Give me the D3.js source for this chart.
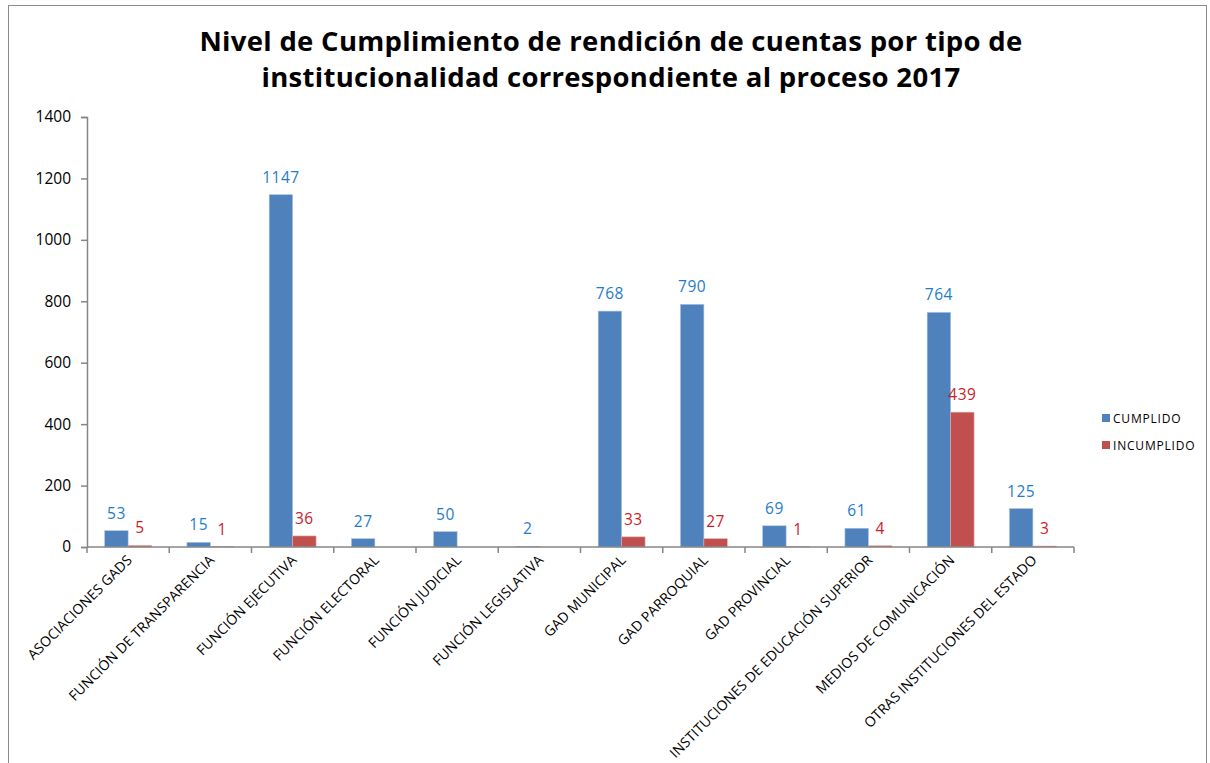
<!DOCTYPE html>
<html>
<head>
<meta charset="utf-8">
<script src="https://cdn.jsdelivr.net/npm/d3@7"></script>
<style>
  body { margin: 0; background: #fff; }
  text { font-family: "Open Sans", "DejaVu Sans", sans-serif; }
</style>
</head>
<body>
<div id="chart"></div>
<script>
// categories and values
const categories = [
  "ASOCIACIONES GADS", "FUNCIÓN DE TRANSPARENCIA", "FUNCIÓN EJECUTIVA",
  "FUNCIÓN ELECTORAL", "FUNCIÓN JUDICIAL", "FUNCIÓN LEGISLATIVA",
  "GAD MUNICIPAL", "GAD PARROQUIAL", "GAD PROVINCIAL",
  "INSTITUCIONES DE EDUCACIÓN SUPERIOR", "MEDIOS DE COMUNICACIÓN",
  "OTRAS INSTITUCIONES DEL ESTADO"
];
const cumplido = [53, 15, 1147, 27, 50, 2, 768, 790, 69, 61, 764, 125];
const incumplido = [5, 1, 36, null, null, null, 33, 27, 1, 4, 439, 3];
const seriesNames = ["CUMPLIDO", "INCUMPLIDO"];
const yTicks = [0, 200, 400, 600, 800, 1000, 1200, 1400];

const barColors = ["#4f81bd", "#c0504d"];
const labelColors = ["#1f7ccb", "#cc2027"];

const W = 1210, H = 763;
const margin = { top: 117, right: 136, bottom: 216, left: 87 };
const width = W - margin.left - margin.right;
const height = H - margin.top - margin.bottom;

const svg = d3.select("#chart").append("svg")
  .attr("width", W)
  .attr("height", H);

// outer frame
svg.append("rect")
  .attr("x", 8.5).attr("y", 5.5)
  .attr("width", W - 12).attr("height", H - 3)
  .attr("fill", "none")
  .attr("stroke", "#8c8c8c");

// title
const title = svg.append("text")
  .attr("text-anchor", "middle")
  .style("font-size", "27.5px")
  .style("font-weight", "bold")
  .style("letter-spacing", "0.3px")
  .attr("fill", "#000");
title.append("tspan").attr("x", 611).attr("y", 51)
  .text("Nivel de Cumplimiento de rendición de cuentas por tipo de");
title.append("tspan").attr("x", 611).attr("y", 87)
  .text("institucionalidad correspondiente al proceso 2017");

const g = svg.append("g")
  .attr("transform", `translate(${margin.left},${margin.top})`);

let x = d3.scaleBand()
  .domain(categories)
  .range([0, width])
  .paddingInner(0.43)
  .paddingOuter(0.215);

let x1 = d3.scaleBand()
  .domain(seriesNames)
  .range([0, x.bandwidth()]);

let y = d3.scaleLinear()
  .domain([0, 1400])
  .range([height, 0]);

// y axis
const yAxis = g.append("g")
  .call(d3.axisLeft(y).tickValues(yTicks).tickFormat(d3.format("d")).tickSize(6).tickPadding(10));
yAxis.select(".domain").attr("stroke", "#868686").attr("stroke-width", 1.5);
yAxis.selectAll(".tick line").attr("stroke", "#868686").attr("stroke-width", 1.5);
yAxis.selectAll(".tick text")
  .style("font-size", "15.5px")
  .attr("fill", "#000");

// bars
const data = categories.map((c, i) => ({ cat: c, vals: [cumplido[i], incumplido[i]] }));

const groups = g.selectAll(".grp")
  .data(data)
  .enter().append("g")
  .attr("class", "grp")
  .attr("transform", d => `translate(${x(d.cat)},0)`);

groups.selectAll("rect")
  .data(d => d.vals.map((v, k) => ({ k: k, v: v })).filter(e => e.v !== null))
  .enter().append("rect")
  .attr("x", d => x1(seriesNames[d.k]))
  .attr("width", x1.bandwidth())
  .attr("y", d => y(d.v))
  .attr("height", d => height - y(d.v))
  .attr("fill", d => barColors[d.k])
  .attr("stroke", d => d.k === 0 ? "#a9c1e0" : "#e4a9a8")
  .attr("stroke-width", 0.6);

groups.selectAll(".lbl")
  .data(d => d.vals.map((v, k) => ({ k: k, v: v })).filter(e => e.v !== null))
  .enter().append("text")
  .attr("class", "lbl")
  .attr("x", d => x1(seriesNames[d.k]) + x1.bandwidth() / 2)
  .attr("y", d => y(d.v) - 12)
  .attr("text-anchor", "middle")
  .style("font-size", "15.5px")
  .style("letter-spacing", "0.5px")
  .attr("fill", d => labelColors[d.k])
  .text(d => d.v);

// x axis with ticks between categories
const step = x.step();
const xAxis = g.append("g").attr("transform", `translate(0,${height})`);
xAxis.append("line")
  .attr("x1", 0).attr("x2", width)
  .attr("stroke", "#868686").attr("stroke-width", 1.5);
xAxis.selectAll(".xt")
  .data(d3.range(categories.length + 1))
  .enter().append("line")
  .attr("x1", i => i * step).attr("x2", i => i * step)
  .attr("y1", 0).attr("y2", 6)
  .attr("stroke", "#868686").attr("stroke-width", 1.5);

xAxis.selectAll(".xl")
  .data(categories)
  .enter().append("text")
  .attr("transform", d => `translate(${x(d) + x.bandwidth() / 2 + 5},${14}) rotate(-45)`)
  .attr("text-anchor", "end")
  .style("font-size", "14px")
  .style("letter-spacing", "0.1px")
  .attr("fill", "#000")
  .text(d => d);

// legend
const legend = svg.append("g").attr("transform", "translate(1102,413)");
seriesNames.forEach((s, i) => {
  const row = legend.append("g").attr("transform", `translate(0,${i * 27})`);
  row.append("rect")
    .attr("width", 8).attr("height", 8)
    .attr("y", 1)
    .attr("fill", barColors[i]);
  row.append("text")
    .attr("x", 11).attr("y", 10)
    .style("font-size", "12px")
    .style("letter-spacing", "0.8px")
    .attr("fill", "#000")
    .text(s);
});
</script>
</body>
</html>
